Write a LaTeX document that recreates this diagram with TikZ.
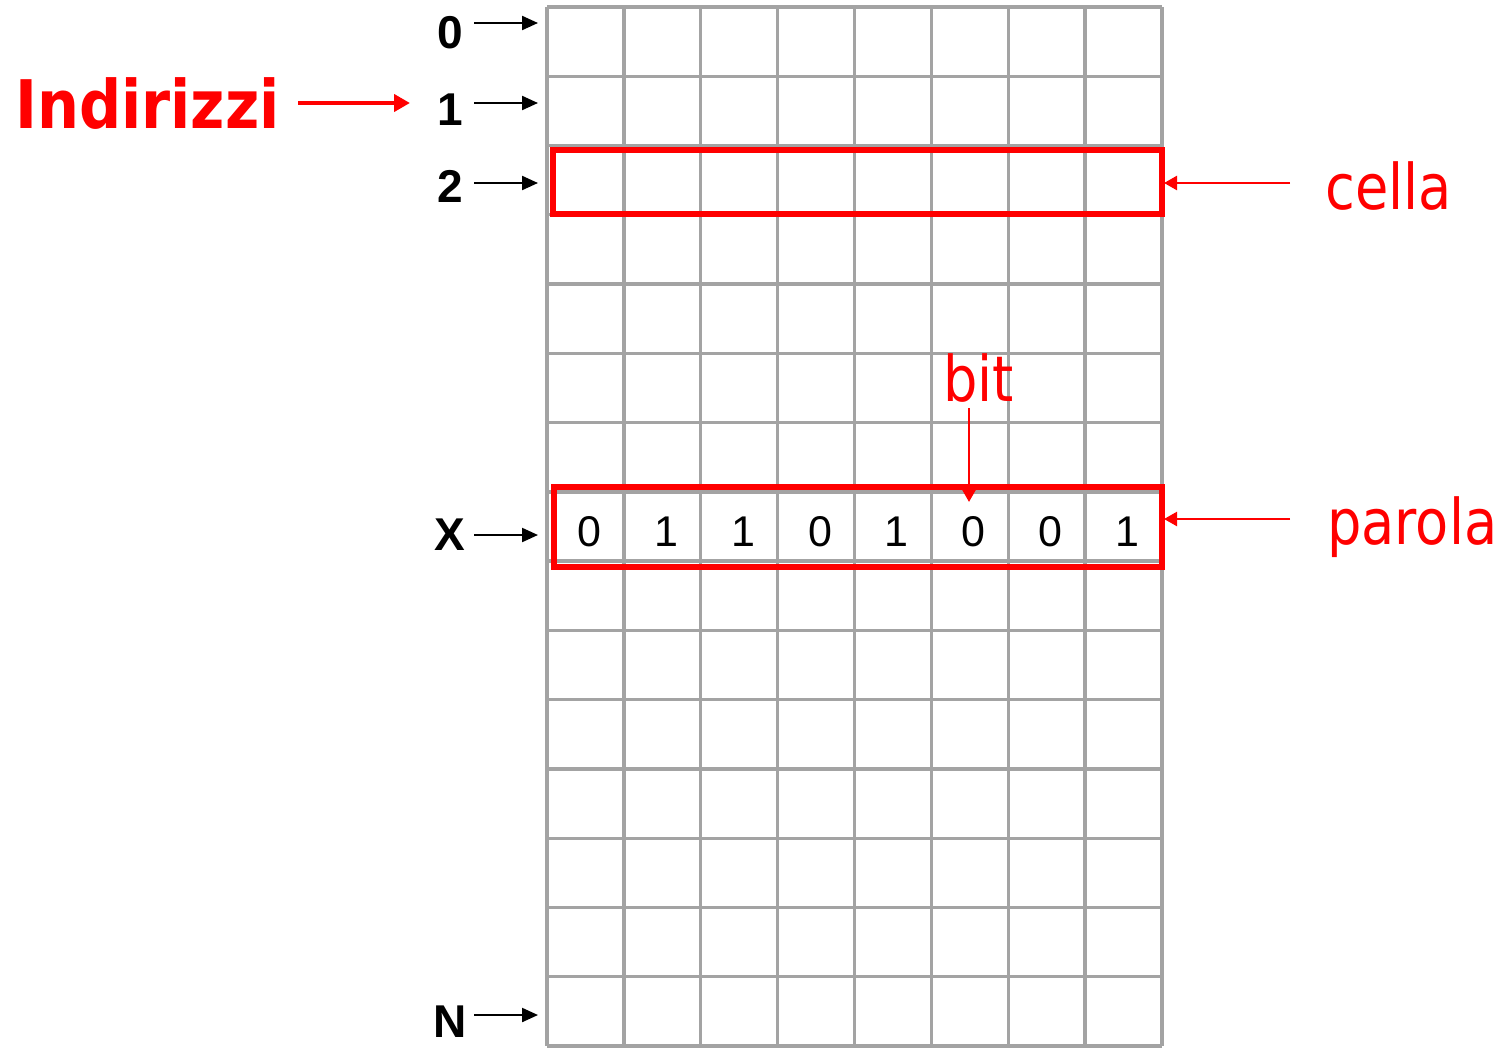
\documentclass[tikz,border=0pt]{standalone}
\usepackage{fontspec}
\setmainfont{Liberation Sans}
\newfontfamily\tah{DejaVu Sans}
\usetikzlibrary{arrows.meta}
\definecolor{gridgray}{HTML}{A3A3A3}
\definecolor{pptred}{HTML}{FF0000}
\begin{document}
\begin{tikzpicture}[x=1pt,y=-1pt,
  gridline/.style={draw=gridgray, line width=3.3pt},
  addr/.style={anchor=base, inner sep=0pt, font=\fontsize{46}{46}\selectfont\bfseries},
  bitdigit/.style={anchor=base, inner sep=0pt, font=\fontsize{43}{43}\selectfont},
  redlabel/.style={anchor=base west, inner sep=0pt, text=pptred, font=\tah\fontsize{63}{63}\selectfont},
  blackarrow/.style={draw=black, line width=2.2pt, -{Triangle[length=16pt,width=14pt]}},
  redarrow/.style={draw=pptred, line width=2.4pt, -{Triangle[length=13pt,width=14pt]}},
  bigredarrow/.style={draw=pptred, line width=4.5pt, -{Triangle[length=16pt,width=17pt]}},
  redbox/.style={draw=pptred, line width=5.5pt, inner sep=0pt, outer sep=0pt}
]
\useasboundingbox (0,0) rectangle (1503,1047);
\fill[white] (0,0) rectangle (1503,1047);

% grid
\foreach \i in {0,...,8}
  \draw[gridline] ({547+\i*76.875},7) -- ({547+\i*76.875},1046);
\foreach \j in {0,...,15}
  \draw[gridline] (547,{7+\j*69.267}) -- (1162,{7+\j*69.267});

% red boxes
\node[redbox, minimum width=609pt, minimum height=64pt] (cellabox) at (857.5,182) {};
\node[redbox, minimum width=608pt, minimum height=80pt] (parolabox) at (858,527) {};

% bits in word X
\foreach \d [count=\k from 0] in {0,1,1,0,1,0,0,1}
  \node[bitdigit] (bit\k) at ({547+(\k+0.5)*76.875+4},546) {\d};

% address labels
\node[addr] (l0) at (450,48) {0};
\node[addr] (l1) at (450,125) {1};
\node[addr] (l2) at (450,202) {2};
\node[addr] (lX) at (450,550) {X};
\node[addr] (lN) at (450,1037) {N};

\coordinate (s0) at (474,23);   \coordinate (e0) at (538,23);
\coordinate (s1) at (474,103);  \coordinate (e1) at (538,103);
\coordinate (s2) at (474,183);  \coordinate (e2) at (538,183);
\coordinate (sX) at (474,535);  \coordinate (eX) at (538,535);
\coordinate (sN) at (474,1015); \coordinate (eN) at (538,1015);
\foreach \r in {0,1,2,X,N}
  \draw[blackarrow] (s\r) -- (e\r);

% Indirizzi
\node[anchor=base west, inner sep=0pt, text=pptred, font=\tah\bfseries\fontsize{67}{67}\selectfont] (indirizzi) at (15,128) {\scalebox{0.88}[1]{Indirizzi}};
\coordinate (is) at (298,103); \coordinate (ie) at (410,103);
\draw[bigredarrow] (is) -- (ie);

% cella
\node[redlabel] (cella) at (1325,209) {\scalebox{0.86}[1]{cella}};
\coordinate (cs) at (1290,183); \coordinate (ce) at (1164,183);
\draw[redarrow] (cs) -- (ce);

% parola
\node[redlabel] (parola) at (1327,544) {\scalebox{0.86}[1]{parola}};
\coordinate (ps) at (1290,519); \coordinate (pe) at (1164,519);
\draw[redarrow] (ps) -- (pe);

% bit
\node[redlabel] (bitlabel) at (943,401) {\scalebox{0.86}[1]{bit}};
\coordinate (bs) at (969,408); \coordinate (be) at (969,502);
\draw[redarrow] (bs) -- (be);
\end{tikzpicture}
\end{document}
